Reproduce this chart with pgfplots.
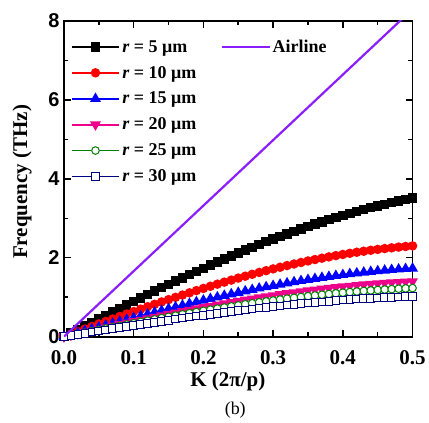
\documentclass[border=0pt]{standalone}
\usepackage{pgfplots}
\usepackage{pgfplotstable}
\pgfplotsset{compat=1.18}
\usepackage{fontspec}
\setmainfont{Liberation Serif}
\newfontfamily\arialfont{Liberation Sans}
\definecolor{airline}{RGB}{139,30,255}
\definecolor{dgreen}{RGB}{0,128,0}
\definecolor{dnavy}{RGB}{0,0,128}
\pgfplotstableread{
K    r5     r10    r15    r20    r25    r30
0.00 0.000  0.000  0.000  0.000  0.000  0.000
0.01 0.090  0.064  0.048  0.039  0.034  0.029
0.02 0.180  0.129  0.097  0.078  0.069  0.057
0.03 0.271  0.193  0.145  0.117  0.103  0.086
0.04 0.361  0.257  0.193  0.156  0.137  0.114
0.05 0.450  0.321  0.241  0.195  0.172  0.142
0.06 0.540  0.385  0.289  0.234  0.206  0.171
0.07 0.629  0.448  0.337  0.273  0.240  0.199
0.08 0.717  0.511  0.384  0.311  0.273  0.227
0.09 0.806  0.573  0.431  0.349  0.307  0.254
0.10 0.893  0.636  0.478  0.387  0.340  0.282
0.11 0.981  0.697  0.524  0.424  0.373  0.309
0.12 1.067  0.758  0.570  0.462  0.406  0.336
0.13 1.153  0.819  0.616  0.498  0.438  0.363
0.14 1.239  0.879  0.661  0.535  0.470  0.390
0.15 1.323  0.938  0.706  0.571  0.502  0.416
0.16 1.407  0.996  0.750  0.607  0.533  0.442
0.17 1.490  1.054  0.793  0.642  0.564  0.468
0.18 1.572  1.111  0.836  0.676  0.594  0.493
0.19 1.653  1.167  0.878  0.710  0.624  0.518
0.20 1.734  1.222  0.919  0.744  0.654  0.542
0.21 1.813  1.277  0.960  0.777  0.683  0.566
0.22 1.891  1.330  1.000  0.810  0.711  0.590
0.23 1.968  1.382  1.040  0.841  0.739  0.613
0.24 2.044  1.433  1.078  0.873  0.767  0.636
0.25 2.119  1.484  1.116  0.903  0.793  0.658
0.26 2.192  1.532  1.153  0.933  0.820  0.680
0.27 2.264  1.580  1.189  0.962  0.845  0.701
0.28 2.335  1.627  1.224  0.990  0.870  0.722
0.29 2.405  1.672  1.258  1.018  0.894  0.742
0.30 2.473  1.717  1.291  1.045  0.918  0.761
0.31 2.540  1.759  1.323  1.071  0.941  0.780
0.32 2.605  1.801  1.355  1.096  0.963  0.799
0.33 2.669  1.841  1.385  1.121  0.985  0.817
0.34 2.732  1.880  1.414  1.144  1.005  0.834
0.35 2.792  1.918  1.442  1.167  1.026  0.850
0.36 2.852  1.954  1.469  1.189  1.045  0.866
0.37 2.909  1.988  1.496  1.210  1.063  0.882
0.38 2.966  2.021  1.520  1.230  1.081  0.896
0.39 3.020  2.053  1.544  1.250  1.098  0.911
0.40 3.073  2.083  1.567  1.268  1.114  0.924
0.41 3.124  2.112  1.589  1.286  1.129  0.937
0.42 3.174  2.139  1.609  1.302  1.144  0.949
0.43 3.222  2.165  1.628  1.318  1.158  0.960
0.44 3.268  2.189  1.646  1.332  1.171  0.971
0.45 3.313  2.211  1.663  1.346  1.183  0.981
0.46 3.356  2.232  1.679  1.359  1.194  0.990
0.47 3.397  2.251  1.694  1.370  1.204  0.999
0.48 3.436  2.269  1.707  1.381  1.214  1.006
0.49 3.474  2.285  1.719  1.391  1.222  1.014
0.50 3.510  2.300  1.730  1.400  1.230  1.020
}\datatable
\begin{document}
\begin{tikzpicture}
\pgfplotsset{
  common/.style={
    width=349pt, height=316pt, scale only axis,
    xmin=0, xmax=0.5, ymin=0, ymax=8,
    legend cell align=left,
    legend image code/.code={\draw[mark repeat=2,mark phase=2] plot coordinates {(0pt,0pt) (24pt,0pt) (48pt,0pt)};},
  }
}
\begin{axis}[common, name=main,
  xtick={0,0.1,0.2,0.3,0.4,0.5}, ytick={0,2,4,6,8},
  minor x tick num=1, minor y tick num=1,
  tick align=inside, major tick length=7pt, minor tick length=4.5pt,
  axis line style={line width=1.8pt},
  every tick/.style={black, line width=1.5pt},
  /pgf/number format/assume math mode=true,
  xticklabel style={font=\fontsize{21}{23}\selectfont\bfseries, yshift=-10pt, /pgf/number format/.cd, fixed, fixed zerofill, precision=1},
  yticklabel style={font=\fontsize{20}{22}\selectfont\arialfont\bfseries, xshift=-1pt},
  xlabel={K (2π/p)}, xlabel style={font=\fontsize{21}{23}\selectfont\bfseries, at={(axis description cs:0.47,-0.142)}, anchor=center},
  ylabel={Frequency (THz)}, ylabel style={font=\fontsize{21}{23}\selectfont\bfseries, at={(axis description cs:-0.12,0.49)}, anchor=center},
  legend style={draw=none, fill=none, at={(0.01,0.952)}, anchor=north west,
    font=\fontsize{18}{20}\selectfont\bfseries, row sep=8.5pt},
  mark size=3.8pt,
]
\addplot[black, line width=1.8pt, mark=square*] table[x=K,y=r5] {\datatable};
\addlegendentry{\textit{r} = 5 μm}
\addplot[red, line width=1.8pt, mark=*] table[x=K,y=r10] {\datatable};
\addlegendentry{\textit{r} = 10 μm}
\addplot[blue, line width=1.8pt, mark=triangle*, mark size=4.5pt] table[x=K,y=r15] {\datatable};
\addlegendentry{\textit{r} = 15 μm}
\addplot[magenta, line width=1.8pt, mark=triangle*, mark size=4.5pt, mark options={rotate=180}] table[x=K,y=r20] {\datatable};
\addlegendentry{\textit{r} = 20 μm}
\addplot[dgreen, line width=1.8pt, mark=*, mark options={fill=white, line width=1pt}] table[x=K,y=r25] {\datatable};
\addlegendentry{\textit{r} = 25 μm}
\addplot[dnavy, line width=1.8pt, mark=square*, mark options={fill=white, line width=1pt}] table[x=K,y=r30] {\datatable};
\addlegendentry{\textit{r} = 30 μm}
\end{axis}
\begin{axis}[common, hide axis,
  legend style={draw=none, fill=none, at={(0.44,0.952)}, anchor=north west,
    font=\fontsize{18}{20}\selectfont\bfseries},
]
\addplot[airline, line width=2.2pt] coordinates {(0,0) (0.5,8.3)};
\addlegendentry{Airline}
\end{axis}
\path ([shift={(-64pt,-79pt)}]main.south west) rectangle ([shift={(16pt,21pt)}]main.north east);
\node[font=\fontsize{18}{20}\selectfont] at ([shift={(-3pt,-74pt)}]main.south) {(b)};
\end{tikzpicture}
\end{document}
